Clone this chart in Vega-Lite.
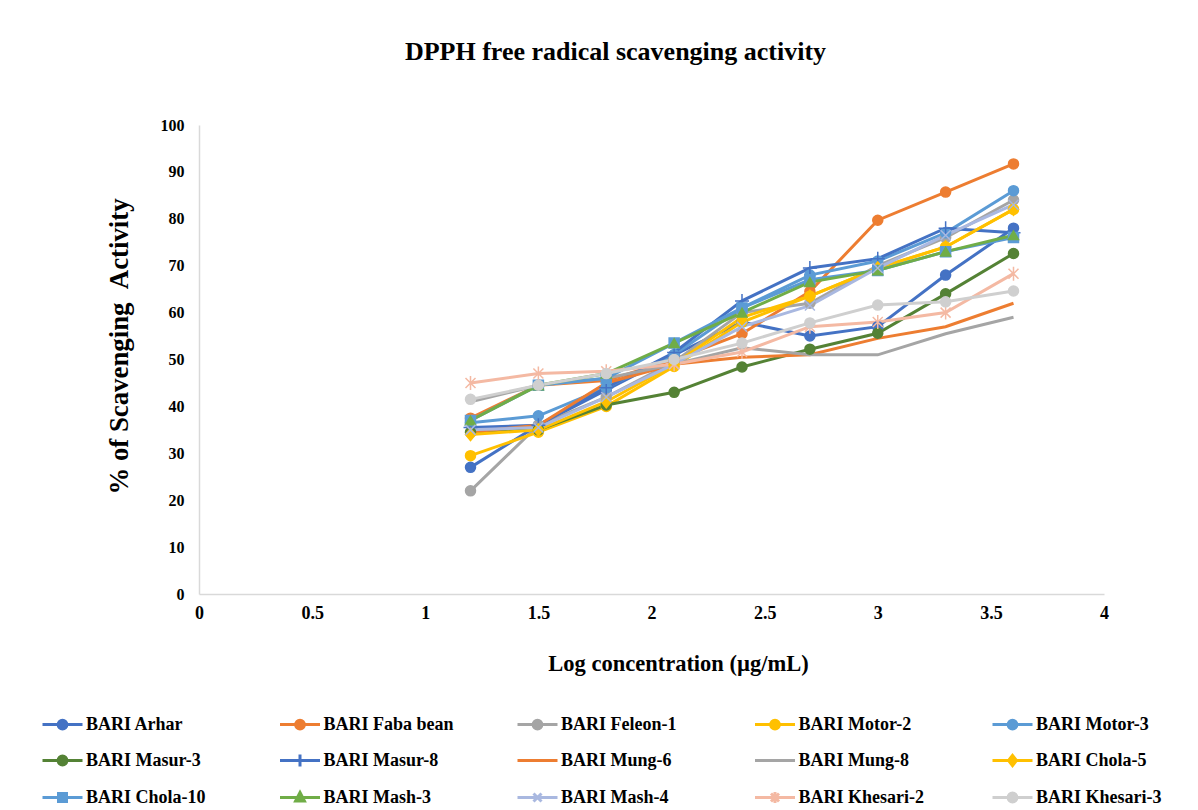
{
  "$schema": "https://vega.github.io/schema/vega-lite/v6.json",
  "width": 905,
  "height": 469,
  "autosize": {"type": "none"},
  "padding": {"left": 199, "top": 125, "right": 94, "bottom": 216},
  "background": "white",
  "title": {
    "text": "DPPH free radical scavenging activity",
    "font": "Liberation Serif",
    "fontSize": 26,
    "fontWeight": "bold",
    "color": "black",
    "anchor": "middle",
    "dx": -36,
    "offset": 52
  },
  "config": {
    "view": {"stroke": null},
    "font": "Liberation Serif"
  },
  "data": {
    "values": [
      {"series": "BARI Arhar", "x": 1.2, "y": 27}, {"series": "BARI Arhar", "x": 1.5, "y": 36}, {"series": "BARI Arhar", "x": 1.8, "y": 43.5}, {"series": "BARI Arhar", "x": 2.1, "y": 51}, {"series": "BARI Arhar", "x": 2.4, "y": 58}, {"series": "BARI Arhar", "x": 2.7, "y": 55}, {"series": "BARI Arhar", "x": 3.0, "y": 57}, {"series": "BARI Arhar", "x": 3.3, "y": 68}, {"series": "BARI Arhar", "x": 3.6, "y": 78},
      {"series": "BARI Faba bean", "x": 1.2, "y": 37.5}, {"series": "BARI Faba bean", "x": 1.5, "y": 44.5}, {"series": "BARI Faba bean", "x": 1.8, "y": 45.5}, {"series": "BARI Faba bean", "x": 2.1, "y": 50}, {"series": "BARI Faba bean", "x": 2.4, "y": 55.5}, {"series": "BARI Faba bean", "x": 2.7, "y": 64.5}, {"series": "BARI Faba bean", "x": 3.0, "y": 79.7}, {"series": "BARI Faba bean", "x": 3.3, "y": 85.7}, {"series": "BARI Faba bean", "x": 3.6, "y": 91.7},
      {"series": "BARI Feleon-1", "x": 1.2, "y": 22}, {"series": "BARI Feleon-1", "x": 1.5, "y": 36}, {"series": "BARI Feleon-1", "x": 1.8, "y": 42}, {"series": "BARI Feleon-1", "x": 2.1, "y": 49.5}, {"series": "BARI Feleon-1", "x": 2.4, "y": 60}, {"series": "BARI Feleon-1", "x": 2.7, "y": 62}, {"series": "BARI Feleon-1", "x": 3.0, "y": 70}, {"series": "BARI Feleon-1", "x": 3.3, "y": 76}, {"series": "BARI Feleon-1", "x": 3.6, "y": 84},
      {"series": "BARI Motor-2", "x": 1.2, "y": 29.5}, {"series": "BARI Motor-2", "x": 1.5, "y": 34.5}, {"series": "BARI Motor-2", "x": 1.8, "y": 40}, {"series": "BARI Motor-2", "x": 2.1, "y": 48.5}, {"series": "BARI Motor-2", "x": 2.4, "y": 58}, {"series": "BARI Motor-2", "x": 2.7, "y": 63.5}, {"series": "BARI Motor-2", "x": 3.0, "y": 69.5}, {"series": "BARI Motor-2", "x": 3.3, "y": 74}, {"series": "BARI Motor-2", "x": 3.6, "y": 82},
      {"series": "BARI Motor-3", "x": 1.2, "y": 36.5}, {"series": "BARI Motor-3", "x": 1.5, "y": 38}, {"series": "BARI Motor-3", "x": 1.8, "y": 44}, {"series": "BARI Motor-3", "x": 2.1, "y": 51}, {"series": "BARI Motor-3", "x": 2.4, "y": 61}, {"series": "BARI Motor-3", "x": 2.7, "y": 68}, {"series": "BARI Motor-3", "x": 3.0, "y": 71}, {"series": "BARI Motor-3", "x": 3.3, "y": 77}, {"series": "BARI Motor-3", "x": 3.6, "y": 86},
      {"series": "BARI Masur-3", "x": 1.2, "y": 34.5}, {"series": "BARI Masur-3", "x": 1.5, "y": 35}, {"series": "BARI Masur-3", "x": 1.8, "y": 40.3}, {"series": "BARI Masur-3", "x": 2.1, "y": 43}, {"series": "BARI Masur-3", "x": 2.4, "y": 48.4}, {"series": "BARI Masur-3", "x": 2.7, "y": 52.2}, {"series": "BARI Masur-3", "x": 3.0, "y": 55.6}, {"series": "BARI Masur-3", "x": 3.3, "y": 64}, {"series": "BARI Masur-3", "x": 3.6, "y": 72.6},
      {"series": "BARI Masur-8", "x": 1.2, "y": 35.5}, {"series": "BARI Masur-8", "x": 1.5, "y": 36}, {"series": "BARI Masur-8", "x": 1.8, "y": 44}, {"series": "BARI Masur-8", "x": 2.1, "y": 51.5}, {"series": "BARI Masur-8", "x": 2.4, "y": 62.5}, {"series": "BARI Masur-8", "x": 2.7, "y": 69.5}, {"series": "BARI Masur-8", "x": 3.0, "y": 71.5}, {"series": "BARI Masur-8", "x": 3.3, "y": 78}, {"series": "BARI Masur-8", "x": 3.6, "y": 77},
      {"series": "BARI Mung-6", "x": 1.2, "y": 34.5}, {"series": "BARI Mung-6", "x": 1.5, "y": 36}, {"series": "BARI Mung-6", "x": 1.8, "y": 45}, {"series": "BARI Mung-6", "x": 2.1, "y": 49}, {"series": "BARI Mung-6", "x": 2.4, "y": 50.5}, {"series": "BARI Mung-6", "x": 2.7, "y": 51}, {"series": "BARI Mung-6", "x": 3.0, "y": 54.5}, {"series": "BARI Mung-6", "x": 3.3, "y": 57}, {"series": "BARI Mung-6", "x": 3.6, "y": 62},
      {"series": "BARI Mung-8", "x": 1.2, "y": 41}, {"series": "BARI Mung-8", "x": 1.5, "y": 44.5}, {"series": "BARI Mung-8", "x": 1.8, "y": 46}, {"series": "BARI Mung-8", "x": 2.1, "y": 49}, {"series": "BARI Mung-8", "x": 2.4, "y": 52.5}, {"series": "BARI Mung-8", "x": 2.7, "y": 51}, {"series": "BARI Mung-8", "x": 3.0, "y": 51}, {"series": "BARI Mung-8", "x": 3.3, "y": 55.5}, {"series": "BARI Mung-8", "x": 3.6, "y": 59},
      {"series": "BARI Chola-5", "x": 1.2, "y": 34}, {"series": "BARI Chola-5", "x": 1.5, "y": 35}, {"series": "BARI Chola-5", "x": 1.8, "y": 41}, {"series": "BARI Chola-5", "x": 2.1, "y": 49}, {"series": "BARI Chola-5", "x": 2.4, "y": 59}, {"series": "BARI Chola-5", "x": 2.7, "y": 63.5}, {"series": "BARI Chola-5", "x": 3.0, "y": 69.5}, {"series": "BARI Chola-5", "x": 3.3, "y": 74}, {"series": "BARI Chola-5", "x": 3.6, "y": 82},
      {"series": "BARI Chola-10", "x": 1.2, "y": 37}, {"series": "BARI Chola-10", "x": 1.5, "y": 44.5}, {"series": "BARI Chola-10", "x": 1.8, "y": 46}, {"series": "BARI Chola-10", "x": 2.1, "y": 53.5}, {"series": "BARI Chola-10", "x": 2.4, "y": 61}, {"series": "BARI Chola-10", "x": 2.7, "y": 67}, {"series": "BARI Chola-10", "x": 3.0, "y": 69}, {"series": "BARI Chola-10", "x": 3.3, "y": 73}, {"series": "BARI Chola-10", "x": 3.6, "y": 76},
      {"series": "BARI Mash-3", "x": 1.2, "y": 37}, {"series": "BARI Mash-3", "x": 1.5, "y": 44.5}, {"series": "BARI Mash-3", "x": 1.8, "y": 47}, {"series": "BARI Mash-3", "x": 2.1, "y": 53.5}, {"series": "BARI Mash-3", "x": 2.4, "y": 60}, {"series": "BARI Mash-3", "x": 2.7, "y": 66.5}, {"series": "BARI Mash-3", "x": 3.0, "y": 69}, {"series": "BARI Mash-3", "x": 3.3, "y": 73}, {"series": "BARI Mash-3", "x": 3.6, "y": 76.5},
      {"series": "BARI Mash-4", "x": 1.2, "y": 35}, {"series": "BARI Mash-4", "x": 1.5, "y": 35.5}, {"series": "BARI Mash-4", "x": 1.8, "y": 42}, {"series": "BARI Mash-4", "x": 2.1, "y": 49}, {"series": "BARI Mash-4", "x": 2.4, "y": 57}, {"series": "BARI Mash-4", "x": 2.7, "y": 61.5}, {"series": "BARI Mash-4", "x": 3.0, "y": 69.5}, {"series": "BARI Mash-4", "x": 3.3, "y": 76.5}, {"series": "BARI Mash-4", "x": 3.6, "y": 83},
      {"series": "BARI Khesari-2", "x": 1.2, "y": 45}, {"series": "BARI Khesari-2", "x": 1.5, "y": 47}, {"series": "BARI Khesari-2", "x": 1.8, "y": 47.5}, {"series": "BARI Khesari-2", "x": 2.1, "y": 49}, {"series": "BARI Khesari-2", "x": 2.4, "y": 51.6}, {"series": "BARI Khesari-2", "x": 2.7, "y": 57}, {"series": "BARI Khesari-2", "x": 3.0, "y": 58}, {"series": "BARI Khesari-2", "x": 3.3, "y": 60}, {"series": "BARI Khesari-2", "x": 3.6, "y": 68.3},
      {"series": "BARI Khesari-3", "x": 1.2, "y": 41.5}, {"series": "BARI Khesari-3", "x": 1.5, "y": 44.5}, {"series": "BARI Khesari-3", "x": 1.8, "y": 47}, {"series": "BARI Khesari-3", "x": 2.1, "y": 50}, {"series": "BARI Khesari-3", "x": 2.4, "y": 53.5}, {"series": "BARI Khesari-3", "x": 2.7, "y": 57.8}, {"series": "BARI Khesari-3", "x": 3.0, "y": 61.6}, {"series": "BARI Khesari-3", "x": 3.3, "y": 62.3}, {"series": "BARI Khesari-3", "x": 3.6, "y": 64.6}
    ]
  },
  "encoding": {
    "x": {
      "field": "x", "type": "quantitative",
      "scale": {"domain": [0, 4], "nice": false},
      "axis": {
        "values": [0, 0.5, 1, 1.5, 2, 2.5, 3, 3.5, 4],
        "format": "~g",
        "title": "Log concentration (µg/mL)",
        "grid": false, "ticks": false,
        "labelFlush": false,
        "domainColor": "#D9D9D9", "domainWidth": 1.5,
        "labelFont": "Liberation Serif", "labelFontSize": 18, "labelFontWeight": "bold", "labelColor": "black",
        "labelPadding": 10,
        "titleFont": "Liberation Serif", "titleFontSize": 22.5, "titleFontWeight": "bold", "titleColor": "black",
        "titleX": 479, "titleY": 69, "titleBaseline": "middle", "titleAnchor": null
      }
    },
    "y": {
      "field": "y", "type": "quantitative",
      "scale": {"domain": [0, 100], "nice": false},
      "axis": {
        "values": [0, 10, 20, 30, 40, 50, 60, 70, 80, 90, 100],
        "title": "% of Scavenging \u00a0Activity",
        "grid": false, "ticks": false,
        "domainColor": "#D9D9D9", "domainWidth": 1.5,
        "labelFont": "Liberation Serif", "labelFontSize": 16, "labelFontWeight": "bold", "labelColor": "black",
        "labelPadding": 15,
        "titleFont": "Liberation Serif", "titleFontSize": 26.8, "titleFontWeight": "bold", "titleColor": "black",
        "titleX": -80, "titleY": 221, "titleAngle": -90, "titleBaseline": "middle", "titleAnchor": null
      }
    }
  },
  "layer": [
    {
      "mark": {"type": "line", "strokeWidth": 3},
      "encoding": {
        "color": {
          "field": "series", "type": "nominal",
          "scale": {
            "domain": ["BARI Arhar", "BARI Faba bean", "BARI Feleon-1", "BARI Motor-2", "BARI Motor-3", "BARI Masur-3", "BARI Masur-8", "BARI Mung-6", "BARI Mung-8", "BARI Chola-5", "BARI Chola-10", "BARI Mash-3", "BARI Mash-4", "BARI Khesari-2", "BARI Khesari-3"],
            "range": ["#4472C4", "#ED7D31", "#A5A5A5", "#FFC000", "#5B9BD5", "#548235", "#4472C4", "#ED7D31", "#A5A5A5", "#FFC000", "#5B9BD5", "#70AD47", "#A9B8E0", "#F4B9A3", "#CFCFCF"]
          },
          "legend": {
            "title": null,
            "orient": "none",
            "direction": "horizontal",
            "legendX": -158,
            "legendY": 577,
            "columns": 5,
            "gridAlign": "all",
            "columnPadding": 56.5,
            "rowPadding": 3,
            "symbolSize": 1600,
            "symbolStrokeWidth": 3,
            "labelFont": "Liberation Serif",
            "labelFontSize": 18,
            "labelFontWeight": "bold",
            "labelColor": "black",
            "labelOffset": 2,
            "labelLimit": 300,
            "encode": {
              "symbols": {
                "update": {
                  "shape": {"signal": "['M-1,0H1M-0.22,0A0.22,0.22,0,1,0,0.22,0A0.22,0.22,0,1,0,-0.22,0Z','M-1,0H1M-0.22,0A0.22,0.22,0,1,0,0.22,0A0.22,0.22,0,1,0,-0.22,0Z','M-1,0H1M-0.22,0A0.22,0.22,0,1,0,0.22,0A0.22,0.22,0,1,0,-0.22,0Z','M-1,0H1M-0.22,0A0.22,0.22,0,1,0,0.22,0A0.22,0.22,0,1,0,-0.22,0Z','M-1,0H1M-0.22,0A0.22,0.22,0,1,0,0.22,0A0.22,0.22,0,1,0,-0.22,0Z','M-1,0H1M-0.22,0A0.22,0.22,0,1,0,0.22,0A0.22,0.22,0,1,0,-0.22,0Z','M-1,0H1M0,-0.3V0.3','M-1,0H1','M-1,0H1','M-1,0H1M0,-0.25L0.2,0L0,0.25L-0.2,0Z','M-1,0H1M-0.2,-0.2H0.2V0.2H-0.2Z','M-1,0H1M0,-0.25L0.22,0.18H-0.22Z','M-1,0H1M-0.2,-0.2L0.2,0.2M-0.2,0.2L0.2,-0.2','M-1,0H1M-0.2,-0.2L0.2,0.2M-0.2,0.2L0.2,-0.2M0,-0.28V0.28','M-1,0H1M-0.22,0A0.22,0.22,0,1,0,0.22,0A0.22,0.22,0,1,0,-0.22,0Z'][indexof(['BARI Arhar','BARI Faba bean','BARI Feleon-1','BARI Motor-2','BARI Motor-3','BARI Masur-3','BARI Masur-8','BARI Mung-6','BARI Mung-8','BARI Chola-5','BARI Chola-10','BARI Mash-3','BARI Mash-4','BARI Khesari-2','BARI Khesari-3'], datum.value)]"},
                  "fill": {"scale": "color", "field": "value"},
                  "stroke": {"scale": "color", "field": "value"},
                  "strokeWidth": {"value": 3}
                }
              }
            }
          }
        },
        "detail": {"field": "series"}
      }
    },
    {
      "transform": [{"filter": "datum.series !== 'BARI Mung-6' && datum.series !== 'BARI Mung-8'"}],
      "mark": {"type": "point", "filled": true, "opacity": 1, "size": 100, "strokeWidth": 1.5},
      "encoding": {
        "color": {"field": "series", "type": "nominal", "legend": null},
        "stroke": {
          "field": "series", "type": "nominal", "legend": null,
          "scale": {
            "domain": ["BARI Arhar", "BARI Faba bean", "BARI Feleon-1", "BARI Motor-2", "BARI Motor-3", "BARI Masur-3", "BARI Masur-8", "BARI Mung-6", "BARI Mung-8", "BARI Chola-5", "BARI Chola-10", "BARI Mash-3", "BARI Mash-4", "BARI Khesari-2", "BARI Khesari-3"],
            "range": ["#4472C4", "#ED7D31", "#A5A5A5", "#FFC000", "#5B9BD5", "#548235", "#4472C4", "#ED7D31", "#A5A5A5", "#FFC000", "#5B9BD5", "#70AD47", "#A9B8E0", "#F4B9A3", "#CFCFCF"]
          }
        },
        "shape": {
          "field": "series", "type": "nominal", "legend": null,
          "scale": {
            "domain": ["BARI Arhar", "BARI Faba bean", "BARI Feleon-1", "BARI Motor-2", "BARI Motor-3", "BARI Masur-3", "BARI Masur-8", "BARI Chola-5", "BARI Chola-10", "BARI Mash-3", "BARI Mash-4", "BARI Khesari-2", "BARI Khesari-3"],
            "range": ["circle", "circle", "circle", "circle", "circle", "circle", "M0,-1.4V1.4M-1.4,0H1.4", "M0,-1.2L1,0L0,1.2L-1,0Z", "square", "triangle-up", "M-1,-1L1,1M-1,1L1,-1", "M-1,-1L1,1M-1,1L1,-1M0,-1.4V1.4", "circle"]
          }
        }
      }
    }
  ]
}
